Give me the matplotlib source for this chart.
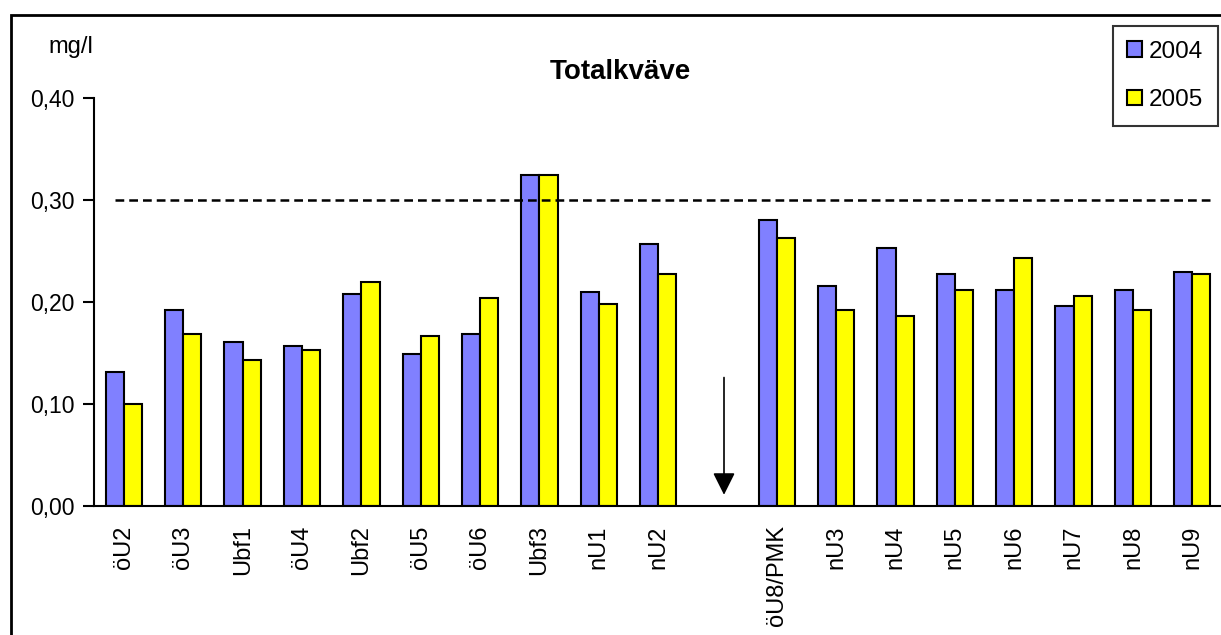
import matplotlib.pyplot as plt
import numpy as np
from matplotlib.patches import Rectangle

plt.rcParams['font.family'] = ['Liberation Sans', 'DejaVu Sans']

# stations, with an empty slot between nU2 and öU8/PMK
stations = ['öU2', 'öU3', 'Ubf1', 'öU4', 'Ubf2', 'öU5', 'öU6', 'Ubf3', 'nU1', 'nU2',
            '', 'öU8/PMK', 'nU3', 'nU4', 'nU5', 'nU6', 'nU7', 'nU8', 'nU9']
tot_n_2004 = [0.131, 0.192, 0.161, 0.157, 0.208, 0.149, 0.169, 0.325, 0.210, 0.257,
              np.nan, 0.280, 0.216, 0.253, 0.227, 0.212, 0.196, 0.212, 0.229]
tot_n_2005 = [0.100, 0.169, 0.143, 0.153, 0.220, 0.167, 0.204, 0.325, 0.198, 0.227,
              np.nan, 0.263, 0.192, 0.186, 0.212, 0.243, 0.206, 0.192, 0.227]
limit = 0.30
yticks = [0.0, 0.1, 0.2, 0.3, 0.4]
ytick_labels = ['0,00', '0,10', '0,20', '0,30', '0,40']

fig = plt.figure(figsize=(12.21, 6.35), dpi=100)
ax = fig.add_axes([0.0772, 0.2031, 0.9236, 0.6425])

x = np.arange(len(stations))
w = 0.306
ax.bar(x - w / 2, tot_n_2004, w, color='#8080FF', edgecolor='black', linewidth=1.5, label='2004')
ax.bar(x + w / 2, tot_n_2005, w, color='#FFFF00', edgecolor='black', linewidth=1.5, label='2005')

# guideline value
ax.plot([-0.15, 18.35], [limit, limit], color='black', linestyle=(0, (3.5, 2)), linewidth=1.8)

# arrow in the empty slot
ax.annotate('', xy=(10.11, 0.011), xytext=(10.11, 0.126),
            arrowprops=dict(arrowstyle='-|>', color='black', lw=1.2,
                            mutation_scale=34, shrinkA=0, shrinkB=0))

ax.set_xlim(-0.5, 18.5)
ax.set_ylim(0, 0.4)
ax.set_yticks(yticks)
ax.set_yticklabels(ytick_labels, fontsize=16.5)
ax.set_xticks(x)
ax.set_xticklabels(stations, rotation=90, fontsize=17)
ax.tick_params(axis='x', length=0, pad=14)
ax.tick_params(axis='y', length=8, width=1.5, pad=6)
for side in ['top', 'right']:
    ax.spines[side].set_visible(False)
for side in ['left', 'bottom']:
    ax.spines[side].set_linewidth(1.5)
    ax.spines[side].set_clip_on(False)

fig.text(620 / 1221, 1 - 72 / 635, 'Totalkväve', fontsize=20, fontweight='bold',
         ha='center', va='center')
fig.text(71 / 1221, 1 - 47 / 635, 'mg/l', fontsize=17, ha='center', va='center')

leg = ax.legend(loc='upper right', bbox_to_anchor=(1218 / 1221, 1 - 26 / 635),
                bbox_transform=fig.transFigure, fontsize=17.5, frameon=True,
                fancybox=False, handlelength=0.6, handleheight=0.6,
                handletextpad=0.3, labelspacing=1.1, borderpad=0.6, borderaxespad=0)
leg.get_frame().set_edgecolor('black')
leg.get_frame().set_linewidth(1.5)

# outer frame
fig.patches.append(Rectangle((11 / 1221, -0.1), 1.2, 1.1 - 15 / 635, transform=fig.transFigure,
                             fill=False, edgecolor='black', linewidth=2, clip_on=False))

fig.savefig('out.png', dpi=100)
